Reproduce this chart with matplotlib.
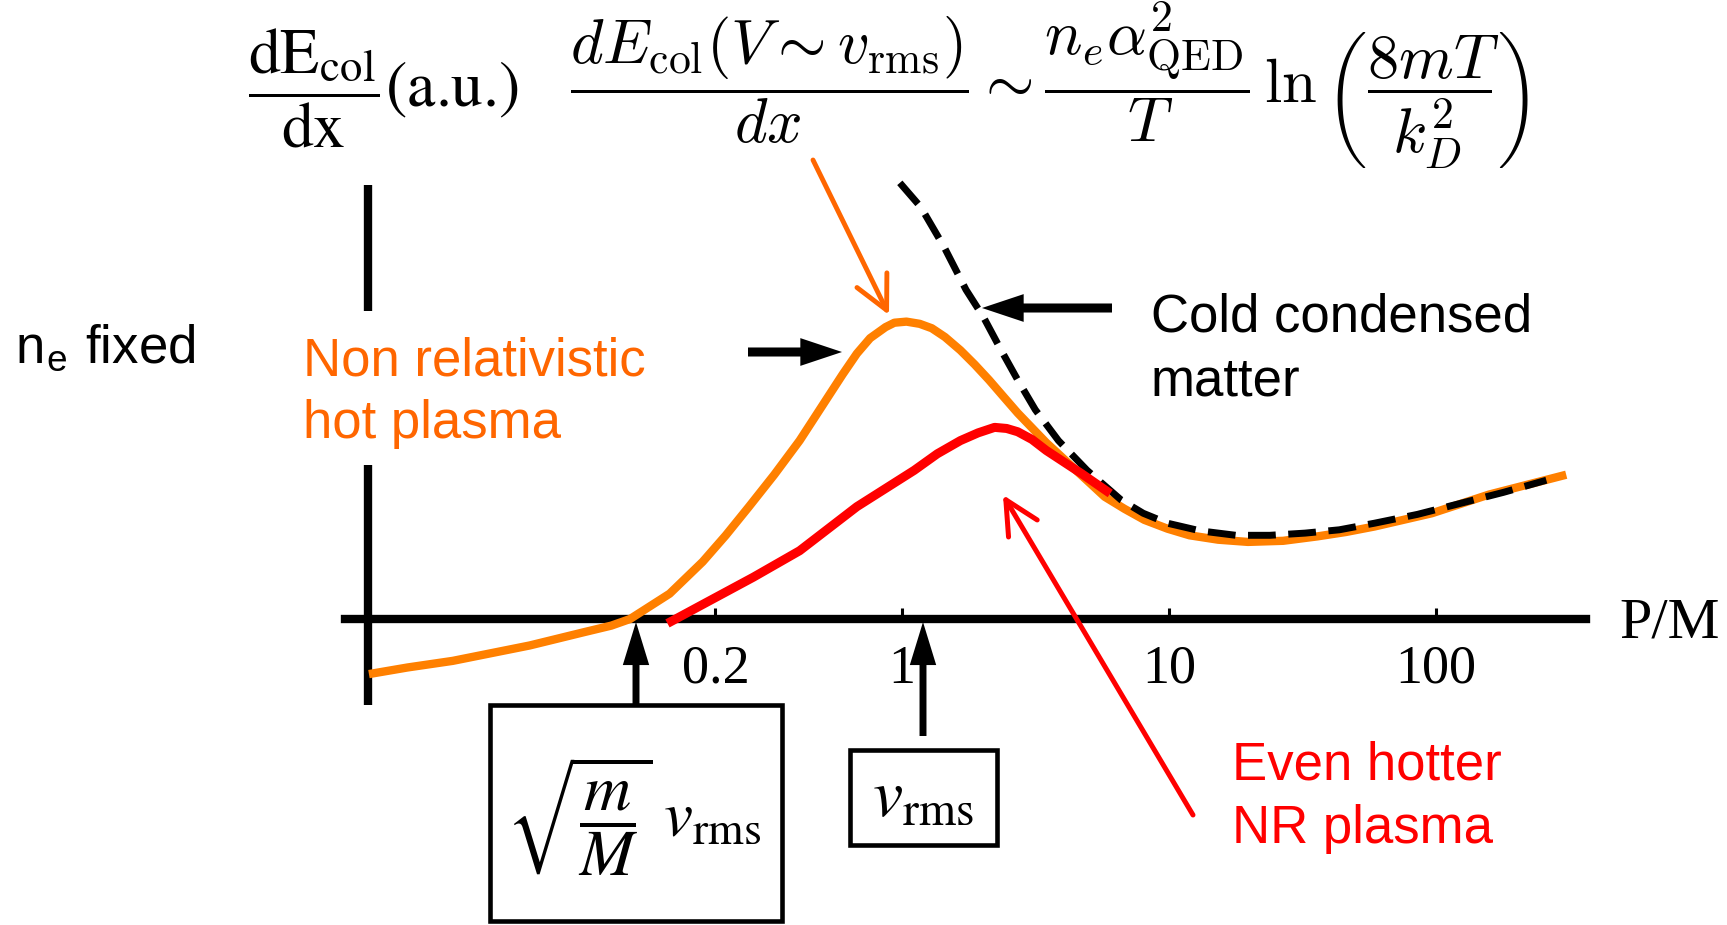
import matplotlib
matplotlib.use("Agg")
import matplotlib.pyplot as plt
from matplotlib.patches import Rectangle, FancyArrowPatch

plt.rcParams["mathtext.fontset"] = "cm"

W, H = 1727, 925

# curves: x is P/M on a log axis, y is dE/dx in a.u.
orange_p = [0.01008, 0.01406, 0.02076, 0.02894, 0.04035, 0.06427, 0.0815, 0.0958,
            0.1348, 0.1793, 0.2188, 0.2672, 0.3323, 0.4136, 0.4680, 0.5294,
            0.5990, 0.6777, 0.7597, 0.8676, 0.9361, 1.039, 1.165, 1.293,
            1.449, 1.655, 1.873, 2.119, 2.397, 2.713, 3.069, 3.472, 3.929,
            4.486, 5.077, 5.743, 6.815, 8.085, 9.869, 11.93, 15.28, 19.75,
            26.76, 35.93, 45.98, 58.88, 96.46, 158.0, 307.4]
orange_y = [-0.50, -0.44, -0.38, -0.31, -0.24, -0.12, -0.06, 0.0,
            0.23, 0.52, 0.76, 1.02, 1.31, 1.62, 1.82, 2.02,
            2.22, 2.41, 2.55, 2.65, 2.69, 2.70, 2.68, 2.64,
            2.56, 2.44, 2.31, 2.17, 2.02, 1.87, 1.735, 1.60, 1.48,
            1.35, 1.23, 1.11, 1.00, 0.90, 0.82, 0.76, 0.72, 0.70,
            0.71, 0.75, 0.79, 0.84, 0.96, 1.13, 1.31]

cold_p = [0.9815, 1.176, 1.436, 1.736, 2.020, 2.352, 2.713, 3.157, 3.854,
          4.934, 6.624, 8.009, 9.869, 13.13, 17.79, 23.88, 32.36, 43.44,
          58.88, 85.24, 123.5, 178.9, 259.0]
cold_y = [3.96, 3.74, 3.38, 2.99, 2.74, 2.44, 2.17, 1.90, 1.62,
          1.35, 1.08, 0.96, 0.87, 0.80, 0.76, 0.76, 0.78, 0.81,
          0.87, 0.95, 1.05, 1.15, 1.26]

red_p = [0.1323, 0.1916, 0.2776, 0.4136, 0.6777, 1.111, 1.356, 1.655,
         1.927, 2.222, 2.466, 2.713, 3.069, 3.472, 4.705, 6.023]
red_y = [-0.04, 0.17, 0.38, 0.62, 1.02, 1.35, 1.50, 1.62,
         1.69, 1.74, 1.73, 1.70, 1.63, 1.53, 1.32, 1.14]

tick_values = [0.2, 1, 10, 100]
tick_labels = ["0.2", "1", "10", "100"]

ORANGE_LINE = "#FF8000"
ORANGE_TEXT = "#FF6600"
RED = "#FF0000"
SANS = "Liberation Sans"
SERIF = "Liberation Serif"


def fp(x, y):
    """pixel position from the top-left corner -> figure fraction"""
    return (x / W, 1 - y / H)


fig = plt.figure(figsize=(W / 100, H / 100), dpi=100)
ax = fig.add_axes([0, 0, 1, 1])
ax.set_xscale("log")
ax.set_xlim(10 ** (-902 / 267), 10 ** ((W - 902) / 267))
ax.set_ylim(-2.778, 5.62)
ax.patch.set_visible(False)

# axes: horizontal one is the bottom spine through y=0, vertical one drawn by hand
for side in ("top", "right", "left"):
    ax.spines[side].set_visible(False)
ax.spines["bottom"].set_position(("data", 0))
ax.spines["bottom"].set_bounds(0.0082, 365)
ax.spines["bottom"].set_linewidth(6)
ax.set_xticks(tick_values, labels=tick_labels)
ax.minorticks_off()
ax.tick_params(axis="x", direction="in", length=8, width=2.2, pad=18, labelsize=39)
for lab in ax.get_xticklabels():
    lab.set_fontfamily(SERIF)
ax.set_yticks([])
ax.vlines([0.01, 0.01], [-0.78, 2.80], [1.40, 3.94], color="black", lw=6)

ax.plot(orange_p, orange_y, color=ORANGE_LINE, lw=6, solid_capstyle="butt",
        solid_joinstyle="round", zorder=3)
ax.plot(cold_p, cold_y, color="black", lw=5, dashes=(4.0, 1.8),
        dash_capstyle="butt", dash_joinstyle="round", zorder=4)
ax.plot(red_p, red_y, color=RED, lw=6.5, solid_capstyle="butt",
        solid_joinstyle="round", zorder=5)

# formulas on top
fig.text(*fp(248, 107), r"$\dfrac{\mathrm{dE}_{\mathrm{col}}}{\mathrm{dx}}$(a.u.)",
         fontsize=46, family="STIXGeneral", math_fontfamily="stix",
         va="baseline", ha="left")
fig.text(*fp(570, 103),
         r"$\dfrac{dE_{\mathrm{col}}(V\sim v_{\mathrm{rms}})}{dx}\sim"
         r"\dfrac{n_e\alpha^2_{\mathrm{QED}}}{T}\,\ln\left(\dfrac{8mT}{k_D^2}\right)$",
         fontsize=45, va="baseline", ha="left")
fig.text(*fp(1619, 638), "P/M", fontsize=42, family=SERIF, va="baseline")

# labels
fig.text(*fp(15, 363), r"n$_\mathregular{e}$ fixed", fontsize=38, family=SANS,
         va="baseline")
fig.text(*fp(303, 375), "Non relativistic", fontsize=38, family=SANS,
         color=ORANGE_TEXT, va="baseline")
fig.text(*fp(303, 438), "hot plasma", fontsize=38, family=SANS,
         color=ORANGE_TEXT, va="baseline")
fig.text(*fp(1151, 332), "Cold condensed", fontsize=38, family=SANS, va="baseline")
fig.text(*fp(1151, 395), "matter", fontsize=38, family=SANS, va="baseline")
fig.text(*fp(1232, 780), "Even hotter", fontsize=38, family=SANS, color=RED,
         va="baseline")
fig.text(*fp(1232, 843), "NR plasma", fontsize=38, family=SANS, color=RED,
         va="baseline")

# boxed velocities
for (x0, y0, x1, y1) in [(490, 705, 782, 921), (850, 750, 997, 845)]:
    fig.add_artist(Rectangle(fp(x0, y1), (x1 - x0) / W, (y1 - y0) / H,
                             transform=fig.transFigure, fill=False,
                             edgecolor="black", lw=3.3))
fig.text(*fp(634, 816), r"$\sqrt{\dfrac{m}{M}}\;v_{\mathrm{rms}}$", fontsize=47,
         math_fontfamily="stix", ha="center", va="center")
fig.text(*fp(923, 797), r"$v_{\mathrm{rms}}$", fontsize=49,
         math_fontfamily="stix", ha="center", va="center")


# arrows
def arrow(a, b, style, color, lw=0, scale=10):
    fig.add_artist(FancyArrowPatch(fp(*a), fp(*b), arrowstyle=style,
                                   mutation_scale=scale, color=color, lw=lw,
                                   shrinkA=0, shrinkB=0, capstyle="round",
                                   joinstyle="round", transform=fig.transFigure))


thin = "->,head_length=2.4,head_width=1.2"
arrow((813, 160), (889, 315), thin, ORANGE_TEXT, lw=3.5)
arrow((1193, 815), (1003, 495), thin, RED, lw=3.6)

fat = "simple,head_length=3.0,head_width=2.0,tail_width=0.65"
arrow((748, 352), (842, 352), fat, "black")
arrow((1112, 308), (982, 308), fat, "black")

up = "simple,head_length=3.1,head_width=1.9,tail_width=0.5"
arrow((636, 706), (636, 622), up, "black")
arrow((923, 736), (923, 622), up, "black")

fig.savefig("out.png", dpi=100)
plt.close(fig)
